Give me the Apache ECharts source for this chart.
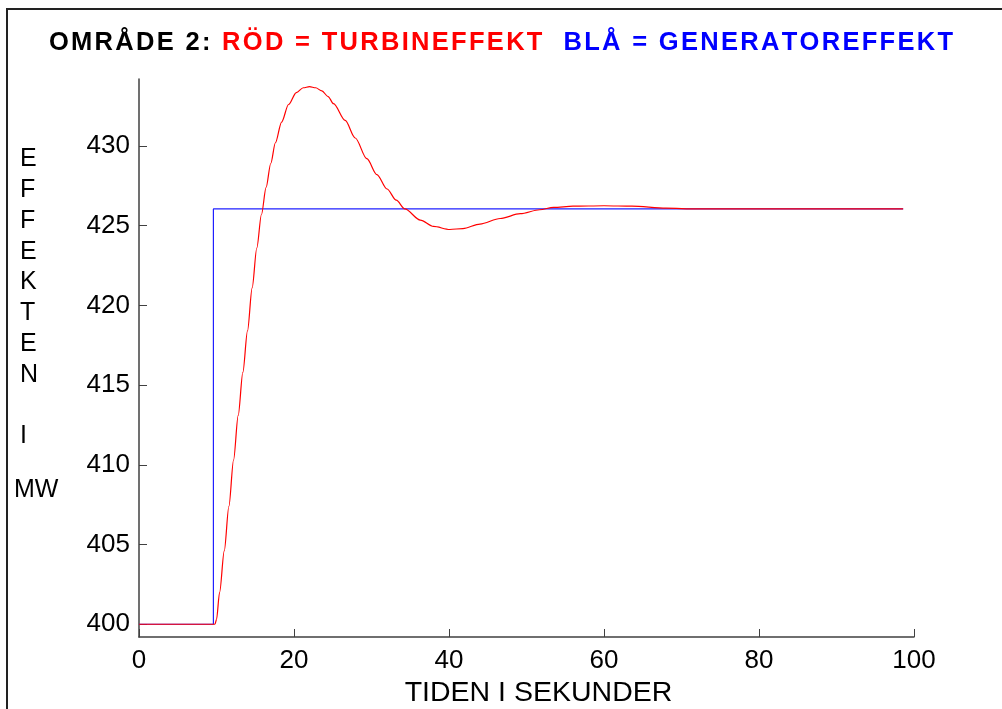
<!DOCTYPE html>
<html>
<head>
<meta charset="utf-8">
<script src="https://cdn.jsdelivr.net/npm/echarts@6/dist/echarts.min.js"></script>
<style>
  html, body { margin: 0; padding: 0; background: #fff; }
  #main { width: 1002px; height: 709px; }
</style>
</head>
<body>
<div id="main"></div>
<script>
// turbine power (red)
var redT = [0, 9.8, 10.0, 10.4, 11.0, 11.6, 12.2, 12.8, 13.4, 14.0, 14.6, 15.2, 15.8, 16.4, 17.0, 17.6, 18.4, 19.3, 20.3, 21.2, 22.0, 22.8, 23.6, 24.4, 25.1, 26.6, 27.9, 29.4, 30.7, 32.0, 33.2, 34.3, 36.3, 38.0, 40.1, 41.8, 44.0, 46.6, 49.2, 51.7, 53.5, 56.0, 60.0, 63.6, 68.0, 72.0, 98.6];
var redV = [400, 400, 400.3, 402.0, 404.6, 407.4, 410.3, 413.1, 415.8, 418.4, 421.1, 423.6, 425.7, 427.4, 428.9, 430.2, 431.5, 432.6, 433.35, 433.65, 433.72, 433.65, 433.45, 433.1, 432.65, 431.6, 430.5, 429.2, 428.2, 427.3, 426.6, 426.05, 425.35, 424.95, 424.76, 424.82, 425.1, 425.45, 425.75, 426.0, 426.15, 426.22, 426.25, 426.22, 426.1, 426.05, 426.05];
// generator power (blue)
var blueT = [0, 9.6, 9.6, 98.6];
var blueV = [400, 400, 426.05, 426.05];
var yTicks = [400, 405, 410, 415, 420, 425, 430];

var titleParts = [
  ['k', 'OMRÅDE 2: '],
  ['r', 'RÖD = TURBINEFFEKT'],
  ['k', '  '],
  ['b', 'BLÅ = GENERATOREFFEKT']
];

function pairs(t, v) {
  var out = [];
  for (var i = 0; i < t.length; i++) out.push([t[i], v[i]]);
  return out;
}

// spaced-out title: one rich token per letter
function spaced(parts) {
  var s = '';
  parts.forEach(function (p) {
    for (var i = 0; i < p[1].length; i++) s += '{' + p[0] + '|' + p[1][i] + '}';
  });
  return s;
}

var chart = echarts.init(document.getElementById('main'));
var font = 'Liberation Sans, Arial, sans-serif';
var axisCol = '#404040';
var tStyle = function (c) {
  return { color: c, fontSize: 25.5, fontWeight: 'bold', fontFamily: font, padding: [0, 1.15, 0, 1.15] };
};

var option = {
  backgroundColor: '#fff',
  animation: false,
  title: {
    left: 'center',
    top: 25,
    text: spaced(titleParts),
    textStyle: {
      rich: { k: tStyle('#000'), r: tStyle('#ff0000'), b: tStyle('#0000ff') },
      fontSize: 25.5, fontWeight: 'bold', fontFamily: font
    }
  },
  grid: { left: 139, right: 88, top: 79, bottom: 72, containLabel: false, outerBoundsMode: 'none' },
  xAxis: {
    type: 'value',
    min: 0, max: 100, interval: 20,
    name: 'TIDEN I SEKUNDER',
    nameLocation: 'middle',
    nameGap: 40,
    nameTextStyle: { color: '#000', fontSize: 28.5, fontFamily: font, padding: [0, 0, 0, 24] },
    axisLine: { show: true, lineStyle: { color: axisCol, width: 1.5 } },
    axisTick: { show: true, inside: true, length: 8, lineStyle: { color: axisCol } },
    axisLabel: { color: '#000', fontSize: 26, fontFamily: font, margin: 11 },
    splitLine: { show: false }
  },
  yAxis: {
    type: 'value',
    min: 399.2, max: 434.2,
    axisLine: { show: true, lineStyle: { color: axisCol, width: 1.5 } },
    axisTick: { show: true, inside: true, length: 8, lineStyle: { color: axisCol }, customValues: yTicks },
    axisLabel: { color: '#000', fontSize: 26, fontFamily: font, margin: 9, customValues: yTicks },
    splitLine: { show: false }
  },
  graphic: [
    {
      type: 'polyline',
      shape: { points: [[7, 709], [7, 9], [1002, 9]] },
      style: { stroke: '#222', lineWidth: 2, fill: null }
    },
    {
      type: 'text',
      left: 20, top: 144,
      style: {
        text: 'E\nF\nF\nE\nK\nT\nE\nN\n\nI',
        fill: '#000', fontSize: 25, fontFamily: font,
        lineHeight: 30.8, align: 'center'
      }
    },
    {
      type: 'text',
      left: 14, top: 478,
      style: { text: 'MW', fill: '#000', fontSize: 25, fontFamily: font }
    }
  ],
  series: [
    {
      name: 'BLÅ = GENERATOREFFEKT',
      type: 'line',
      data: pairs(blueT, blueV),
      showSymbol: false,
      lineStyle: { color: '#2020ff', width: 1.2 },
      z: 2
    },
    {
      name: 'RÖD = TURBINEFFEKT',
      type: 'line',
      data: pairs(redT, redV),
      showSymbol: false,
      smooth: 0.3,
      smoothMonotone: 'x',
      lineStyle: { color: '#ff0000', width: 1.2 },
      z: 3
    }
  ]
};
chart.setOption(option);
</script>
</body>
</html>
